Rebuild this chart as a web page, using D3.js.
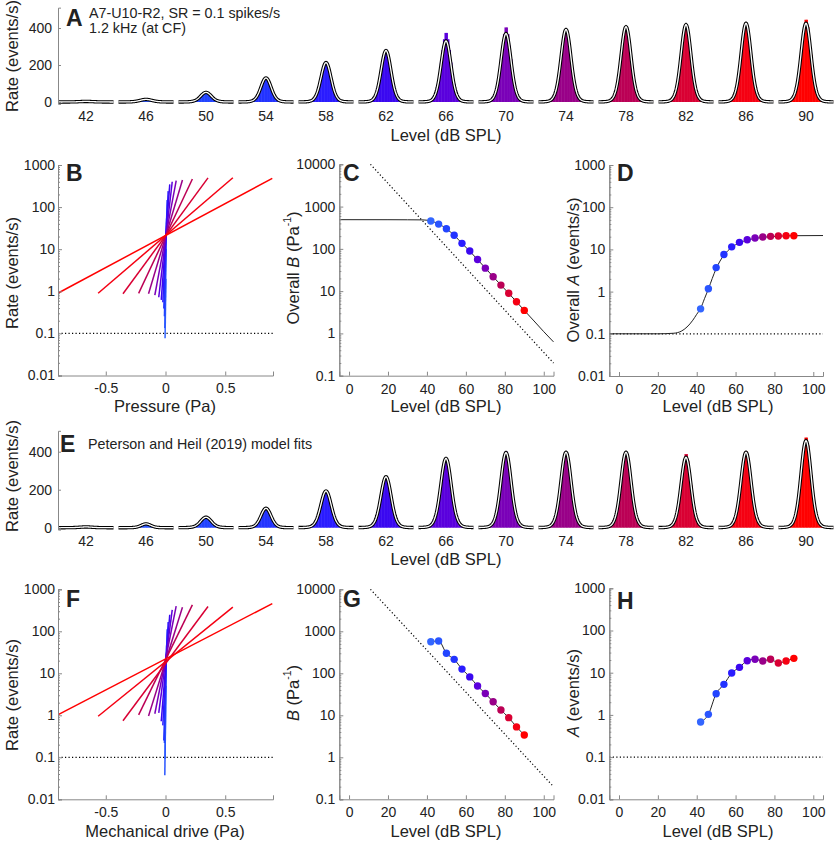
<!DOCTYPE html>
<html>
<head>
<meta charset="utf-8">
<script src="https://cdn.jsdelivr.net/npm/d3@7"></script>
<style>
body { margin: 0; background: #fff; }
text { font-family: "Liberation Sans", Arial, sans-serif; fill: #222; }
</style>
</head>
<body>
<svg id="fig" width="837" height="842"></svg>
<script>
// stimulus levels (dB SPL) and the colour used for each
var levels = [42, 46, 50, 54, 58, 62, 66, 70, 74, 78, 82, 86, 90];
var colors = ["#3366ff", "#2a55ff", "#2244ff", "#2233ff", "#2a1cff", "#3a08f0", "#5a00dd",
              "#7a00b8", "#990088", "#bb0055", "#d90033", "#f50012", "#ff0000"];
// peak sound pressure at each level (Pa)
var pressure = [0.00356, 0.00564, 0.00894, 0.0142, 0.0225, 0.0356, 0.0564,
                0.0894, 0.142, 0.225, 0.356, 0.564, 0.894];

// A: period histograms + overall model fits (peak rates, events/s)
var fitPeakA  = [3, 14, 52, 130, 213, 278, 330, 370, 392, 407, 418, 425, 425];
var histPeakA = [3, 16, 50, 125, 215, 285, 378, 408, 395, 410, 420, 430, 450];
// C, D: overall B (1/Pa) and overall A (events/s) per level
var overallB = [457, 385, 299, 209, 135, 88.7, 56, 35, 21.9, 13.9, 8.9, 5.6, 3.5];
var overallA = [0.39, 1.17, 3.7, 7.6, 11.5, 14.7, 17, 18.6, 19.6, 20.4, 20.8, 21.1, 21.1];
// continuous fit lines in C and D
var fitLevelC = [-5, 20, 30, 38, 40, 42, 44, 46, 50, 54, 58, 62, 66, 70, 74, 78, 82, 86, 90, 95, 100, 105];
var fitValueC = [490, 489, 487, 484, 476, 456, 425, 388, 299, 209, 135, 88, 56, 35, 22, 13.9, 8.9, 5.6, 3.5, 1.97, 1.1, 0.63];
var fitLevelD = [-5, 20, 28, 32, 35, 38, 40, 42, 44, 46, 48, 50, 52, 54, 56, 58, 60, 62, 66, 70, 74, 78, 82, 86, 90, 105];
var fitValueD = [0.1, 0.1, 0.103, 0.115, 0.145, 0.21, 0.29, 0.4, 0.68, 1.15, 2.05, 3.5, 5.3, 7.3, 9.3, 11.2, 12.9, 14.3, 16.6, 18.2, 19.3, 20.1, 20.6, 20.9, 21.1, 21.3];

// E: period histograms + Peterson and Heil (2019) fits
var fitPeakE  = [4, 20, 55, 102, 193, 268, 365, 395, 397, 397, 370, 397, 458];
var histPeakE = [3, 16, 48, 100, 195, 270, 368, 405, 395, 395, 392, 405, 480];
// G, H: per-level B and A
var levelB = [565, 588, 299, 215, 126, 82, 50, 33, 21, 13.4, 8.8, 5.3, 3.4];
var levelA = [0.68, 1.03, 3.18, 5.3, 9.8, 13.4, 19.2, 20.8, 18.9, 20.8, 17, 18.9, 21.9];

// dotted reference lines
var unityLevel = [11, 105], unityB = [10000, 0.2];
var spontRate = 0.1;

var svg = d3.select("#fig");
var axisGrey = "#888";
var tickFont = "14px";

function styleAxis(g) {
  g.selectAll("path").attr("stroke", axisGrey);
  g.selectAll("line").attr("stroke", axisGrey);
  g.selectAll("text").style("font-size", tickFont).attr("fill", "#222");
}

function letter(t, x, y) {
  svg.append("text").attr("x", x).attr("y", y).text(t)
    .style("font-size", "23px").style("font-weight", "bold").attr("fill", "#000");
}

function yLabel(parts, x, y) {
  var t = svg.append("text")
    .attr("transform", `translate(${x},${y}) rotate(-90)`)
    .attr("text-anchor", "middle").attr("dominant-baseline", "central")
    .style("font-size", "16.5px");
  parts.forEach(p => {
    var s = t.append("tspan").text(p.t);
    if (p.i) s.style("font-style", "italic");
    if (p.sup) s.attr("baseline-shift", "super").style("font-size", "10.5px");
  });
}

function xLabel(txt, x, y) {
  svg.append("text").attr("x", x).attr("y", y).attr("text-anchor", "middle")
    .style("font-size", "16.5px").text(txt);
}

// ---------- period histogram panels (A, E) ----------
function cyclePanel(yBase, y400, peaks, hists, bvals, tickY, labY) {
  var x = d3.scalePoint().domain(levels).range([86, 806]);
  var ph = d3.scaleLinear().domain([0, 1]).range([-27.5, 27.5]);
  var k = (400) / (yBase - y400);
  var y = d3.scaleLinear().domain([-10, 510]).range([yBase + 10 / k, yBase - 510 / k]);
  var g = svg.append("g");

  var nb = 36;
  var bins = d3.range(nb).map(j => (j + 0.5) / nb);
  var pts = d3.range(121).map(j => j / 120);

  levels.forEach((L, i) => {
    var kap = bvals[i] * pressure[i];
    var shape = f => Math.exp(kap * (Math.cos(2 * Math.PI * (f - 0.5)) - 1));
    var cx = x(L);
    g.append("g").selectAll("rect")
      .data(bins).enter().append("rect")
      .attr("x", d => cx + ph(d - 0.5 / nb))
      .attr("width", (ph(1) - ph(0)) / nb + 0.4)
      .attr("y", d => y(hists[i] * shape(d)))
      .attr("height", d => y(0) - y(hists[i] * shape(d)))
      .attr("fill", colors[i]);
    var line = d3.line().x(d => cx + ph(d)).y(d => y(peaks[i] * shape(d)));
    g.append("path").attr("d", line(pts)).attr("fill", "none")
      .attr("stroke", "#000").attr("stroke-width", 3.4);
    g.append("path").attr("d", line(pts)).attr("fill", "none")
      .attr("stroke", "#fff").attr("stroke-width", 1.3);
    g.append("text").attr("x", cx).attr("y", tickY).attr("text-anchor", "middle")
      .style("font-size", tickFont).text(L);
  });

  var ax = svg.append("g").attr("transform", "translate(58,0)")
    .call(d3.axisLeft(y).tickValues([0, 200, 400]).tickSize(-3).tickPadding(6));
  styleAxis(ax);
  xLabel("Level (dB SPL)", 446, labY);
}

cyclePanel(102, 28, fitPeakA, histPeakA, overallB, 121, 140.5);
cyclePanel(527.7, 451.7, fitPeakE, histPeakE, levelB, 546, 565);

svg.append("text").attr("x", 89).attr("y", 18).style("font-size", "14.3px")
  .text("A7-U10-R2, SR = 0.1 spikes/s");
svg.append("text").attr("x", 89).attr("y", 33).style("font-size", "14.3px")
  .text("1.2 kHz (at CF)");
svg.append("text").attr("x", 88).attr("y", 449).style("font-size", "14.3px")
  .text("Peterson and Heil (2019) model fits");
letter("A", 66, 26);
letter("E", 60, 452);
yLabel([{t: "Rate (events/s)"}], 12, 56);
yLabel([{t: "Rate (events/s)"}], 12, 476);

// ---------- log-y panels ----------
function logAxes(xs, ys, xticks, padY) {
  var x0 = xs.range()[0], yb = ys.range()[0];
  var decades = ys.ticks().filter(v => Math.abs(Math.log10(v) - Math.round(Math.log10(v))) < 1e-9);
  var minor = ys.ticks().filter(v => decades.indexOf(v) < 0);
  var gm = svg.append("g").attr("transform", `translate(${x0},0)`)
    .call(d3.axisLeft(ys).tickValues(minor).tickSize(-2).tickFormat(""));
  styleAxis(gm);
  var gy = svg.append("g").attr("transform", `translate(${x0},0)`)
    .call(d3.axisLeft(ys).tickValues(decades).tickSize(-4).tickPadding(padY)
      .tickFormat(d => d >= 1 ? d3.format("d")(d) : d3.format("~g")(d)));
  styleAxis(gy);
  var gx = svg.append("g").attr("transform", `translate(0,${yb})`)
    .call(d3.axisBottom(xs).tickValues(xticks).tickSize(-4).tickPadding(8).tickFormat(d => d));
  styleAxis(gx);
}

function dotted(pts, xs, ys) {
  svg.append("path")
    .attr("d", d3.line().x(d => xs(d[0])).y(d => ys(d[1]))(pts))
    .attr("fill", "none").attr("stroke", "#000").attr("stroke-width", 1.2)
    .attr("stroke-dasharray", "1.2,2.3");
}

function ioPanel(yTop, yBot, avals, bvals, xlab, labY, ylabY) {
  var xs = d3.scaleLinear().domain([-0.9, 0.9]).range([58, 273]);
  var ys = d3.scaleLog().domain([0.01, 1000]).range([yBot, yTop]);
  dotted([[-0.9, spontRate], [0.9, spontRate]], xs, ys);
  levels.forEach((L, i) => {
    var p = pressure[i];
    var ends = [[-p, avals[i] * Math.exp(-bvals[i] * p)], [p, avals[i] * Math.exp(bvals[i] * p)]];
    svg.append("path")
      .attr("d", d3.line().x(d => xs(d[0])).y(d => ys(d[1]))(ends))
      .attr("stroke", colors[i]).attr("stroke-width", 1.5).attr("fill", "none");
  });
  logAxes(xs, ys, [-0.5, 0, 0.5], 3);
  xLabel(xlab, 165, labY);
  yLabel([{t: "Rate (events/s)"}], 12, ylabY);
}

function bPanel(yTop, yBot, bvals, fitL, fitV, ylab, ylabY, labY) {
  var xs = d3.scaleLinear().domain([-5, 105]).range([339.3, 553.5]);
  var ys = d3.scaleLog().domain([0.1, 10000]).range([yBot, yTop]);
  dotted(unityLevel.map((l, j) => [l, unityB[j]]), xs, ys);
  svg.append("path")
    .attr("d", d3.line().x(d => xs(d[0])).y(d => ys(d[1])).curve(d3.curveMonotoneX)(fitL.map((l, j) => [l, fitV[j]])))
    .attr("fill", "none").attr("stroke", "#222").attr("stroke-width", 1);
  svg.append("g").selectAll("circle").data(levels).enter().append("circle")
    .attr("cx", d => xs(d)).attr("cy", (d, i) => ys(bvals[i])).attr("r", 3.7)
    .attr("fill", (d, i) => colors[i]);
  logAxes(xs, ys, [0, 20, 40, 60, 80, 100], 4);
  xLabel("Level (dB SPL)", 446, labY);
  yLabel(ylab, 293, ylabY);
}

function aPanel(yTop, yBot, avals, fitL, fitV, ylab, ylabY, labY) {
  var xs = d3.scaleLinear().domain([-5, 105]).range([609.3, 823]);
  var ys = d3.scaleLog().domain([0.01, 1000]).range([yBot, yTop]);
  dotted([[-5, spontRate], [105, spontRate]], xs, ys);
  svg.append("path")
    .attr("d", d3.line().x(d => xs(d[0])).y(d => ys(d[1])).curve(d3.curveMonotoneX)(fitL.map((l, j) => [l, fitV[j]])))
    .attr("fill", "none").attr("stroke", "#222").attr("stroke-width", 1);
  svg.append("g").selectAll("circle").data(levels).enter().append("circle")
    .attr("cx", d => xs(d)).attr("cy", (d, i) => ys(avals[i])).attr("r", 3.7)
    .attr("fill", (d, i) => colors[i]);
  logAxes(xs, ys, [0, 20, 40, 60, 80, 100], 4);
  xLabel("Level (dB SPL)", 718, labY);
  yLabel(ylab, 573, ylabY);
}

// top row
ioPanel(165, 375.5, overallA, overallB, "Pressure (Pa)", 412, 273);
bPanel(164.3, 375.7, overallB, fitLevelC, fitValueC,
  [{t: "Overall "}, {t: "B", i: true}, {t: " (Pa"}, {t: "-1", sup: true}, {t: ")"}], 268, 412);
aPanel(165, 376, overallA, fitLevelD, fitValueD,
  [{t: "Overall "}, {t: "A", i: true}, {t: " (events/s)"}], 270, 412);
letter("B", 66, 181);
letter("C", 343, 181);
letter("D", 617, 181);

// bottom row
ioPanel(589.3, 799.3, levelA, levelB, "Mechanical drive (Pa)", 837, 695);
bPanel(589.3, 799.3, levelB, levels, levelB,
  [{t: "B", i: true}, {t: " (Pa"}, {t: "-1", sup: true}, {t: ")"}], 693, 837);
aPanel(588.3, 799.3, levelA, levels, levelA,
  [{t: "A", i: true}, {t: " (events/s)"}], 693, 837);
letter("F", 66, 607);
letter("G", 343, 607);
letter("H", 617, 609);
</script>
</body>
</html>
